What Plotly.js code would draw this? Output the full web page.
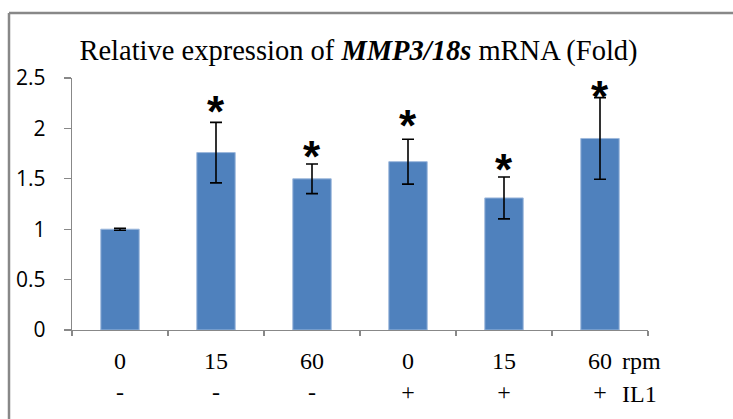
<!DOCTYPE html>
<html>
<head>
<meta charset="utf-8">
<script src="https://cdn.plot.ly/plotly-3.0.1.min.js"></script>
<style>
  html, body { margin: 0; padding: 0; background: #fff; }
  #chart { width: 733px; height: 419px; }
</style>
</head>
<body>
<div id="chart"></div>
<script>
// ---- data ----
const rpmLabels = ['0', '15', '60', '0', '15', '60'];
const il1Labels = ['-', '-', '-', '+', '+', '+'];
const values = [1.00, 1.76, 1.50, 1.67, 1.31, 1.90];
const errors = [0.01, 0.30, 0.147, 0.223, 0.208, 0.405];
const starHeights = [null, 2.225, 1.776, 2.09, 1.654, 2.381];
const yTickVals = [0, 0.5, 1, 1.5, 2, 2.5];
const yTickText = ['0', '0.5', '1', '1.5', '2', '2.5'];

const categories = rpmLabels.map((r, i) => r + '|' + il1Labels[i]);
const tickText = rpmLabels.map((r, i) => r + '<br>' + il1Labels[i]);

const W = 733, H = 419;
const M = { l: 72, r: 85, t: 78, b: 89 };
const pw = W - M.l - M.r, ph = H - M.t - M.b;
const px2paperX = (px) => (px - M.l) / pw;
const px2paperY = (py) => (H - M.b - py) / ph;

const serif = 'Liberation Serif, Times New Roman, serif';
const sans = 'Open Sans, Liberation Sans, sans-serif';

const bars = {
  type: 'bar',
  x: categories,
  y: values,
  marker: { color: '#4f81bd', line: { color: '#9db8dc', width: 1 } },
  error_y: { type: 'data', array: errors, visible: true, color: '#000', thickness: 1.6, width: 6 },
  hoverinfo: 'skip'
};

const annotations = [];
categories.forEach((c, i) => {
  if (starHeights[i] !== null) {
    annotations.push({
      x: c, y: starHeights[i], xref: 'x', yref: 'y',
      text: '<b>*</b>', showarrow: false,
      font: { family: 'Liberation Sans, Arial, sans-serif', size: 44, color: '#000' },
      xanchor: 'center', yanchor: 'middle', yshift: -6
    });
  }
});
annotations.push({
  xref: 'paper', yref: 'paper', x: px2paperX(620), y: px2paperY(361),
  text: 'rpm', showarrow: false, xanchor: 'left', yanchor: 'middle',
  font: { family: serif, size: 24, color: '#000' }
});
annotations.push({
  xref: 'paper', yref: 'paper', x: px2paperX(620), y: px2paperY(394),
  text: 'IL1', showarrow: false, xanchor: 'left', yanchor: 'middle',
  font: { family: serif, size: 24, color: '#000' }
});

const fx = px2paperX(9), fy = px2paperY(13);
const shapes = [
  { type: 'line', xref: 'paper', yref: 'paper', x0: fx, x1: fx, y0: px2paperY(H + 10), y1: fy,
    line: { color: '#888', width: 2.5 } },
  { type: 'line', xref: 'paper', yref: 'paper', x0: fx, x1: px2paperX(W + 10), y0: fy, y1: fy,
    line: { color: '#888', width: 2.5 } }
];

const layout = {
  width: W, height: H,
  margin: M,
  paper_bgcolor: '#fff', plot_bgcolor: '#fff',
  showlegend: false,
  bargap: 0.6,
  title: {
    text: 'Relative expression of <b><i>MMP3/18s</i></b> mRNA (Fold)',
    font: { family: serif, size: 28.5, color: '#000' },
    x: px2paperX(358.5), xref: 'paper', xanchor: 'center',
    y: 1 - 50 / H, yref: 'container', yanchor: 'middle'
  },
  xaxis: {
    type: 'category',
    tickvals: categories, ticktext: tickText,
    tickson: 'boundaries',
    ticks: 'outside', ticklen: 5, tickcolor: '#888', tickwidth: 1.3,
    showline: true, linecolor: '#888', linewidth: 1.3,
    showgrid: false, zeroline: false,
    tickfont: { family: serif, size: 24, color: '#000' },
    ticklabelstandoff: 9
  },
  yaxis: {
    range: [0, 2.5],
    tickvals: yTickVals, ticktext: yTickText,
    ticks: 'outside', ticklen: 7, tickcolor: '#888', tickwidth: 1.3,
    showline: true, linecolor: '#888', linewidth: 1.3,
    showgrid: false, zeroline: false,
    tickfont: { family: sans, size: 21, color: '#000' },
    ticklabelstandoff: 14
  },
  annotations: annotations,
  shapes: shapes
};

Plotly.newPlot('chart', [bars], layout, { displayModeBar: false, staticPlot: true });
</script>
</body>
</html>
